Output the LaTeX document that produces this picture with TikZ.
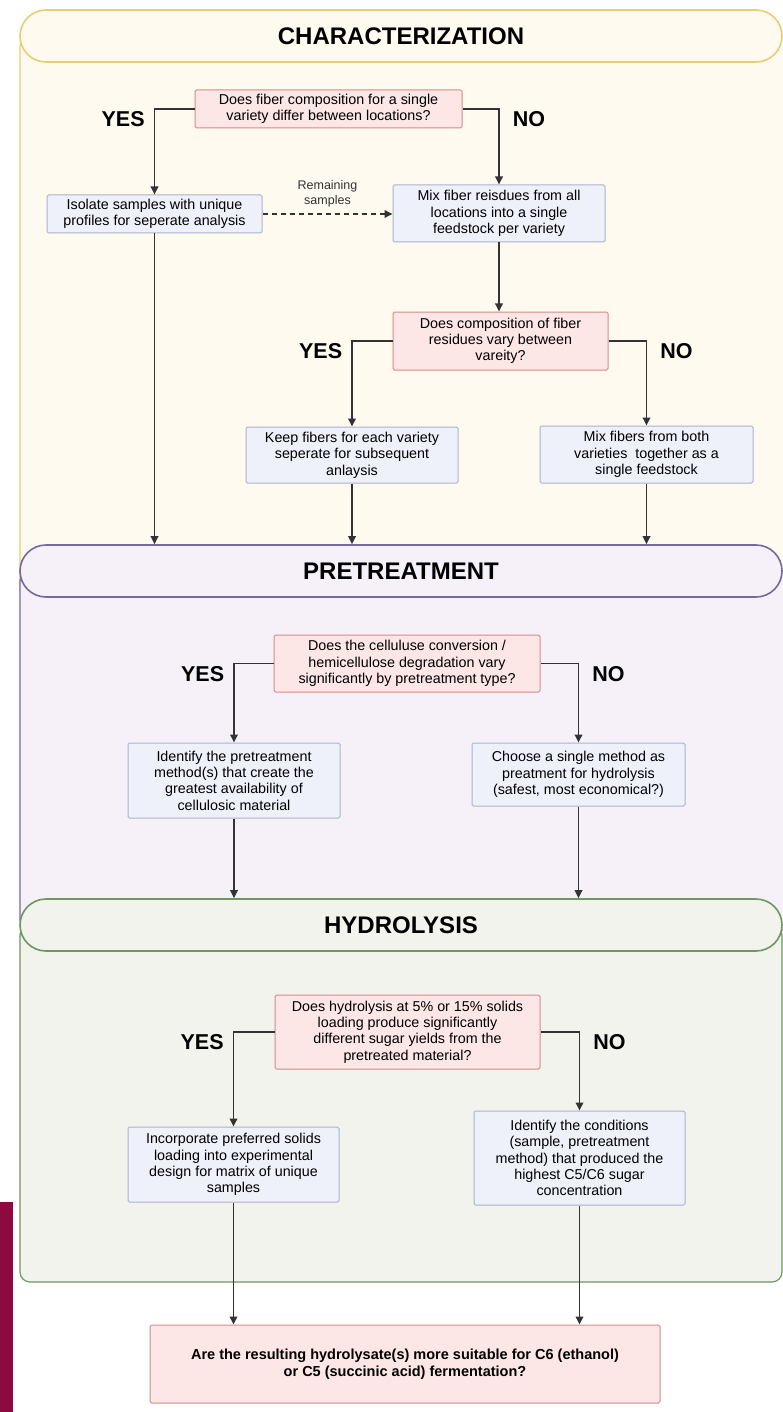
\documentclass[tikz,border=0pt]{standalone}
\usepackage{fontspec}
\setmainfont{Liberation Sans}
\usetikzlibrary{positioning,calc,arrows.meta}

\definecolor{charfill}{HTML}{FEFAF0}
\definecolor{charline}{HTML}{E9CD72}
\definecolor{prefill}{HTML}{F6F1F8}
\definecolor{preline}{HTML}{76699F}
\definecolor{hydfill}{HTML}{F1F3EC}
\definecolor{hydline}{HTML}{6F9760}
\definecolor{qfill}{HTML}{FCE6E6}
\definecolor{qline}{HTML}{D68A8A}
\definecolor{afill}{HTML}{EEF1F9}
\definecolor{aline}{HTML}{A8B3D3}
\definecolor{linegray}{HTML}{333333}
\definecolor{sidebar}{HTML}{8C0B3E}

\newcommand{\boxfont}{\fontsize{14.3}{16.3}\selectfont}

\begin{document}
\begin{tikzpicture}[
    x=1pt, y=-1pt,
    panel/.style={line width=1.2pt, rounded corners=10pt},
    header/.style={rectangle, rounded corners=26pt, line width=1.6pt, minimum width=762pt, minimum height=52pt, font=\fontsize{24}{27}\selectfont\bfseries},
    qbox/.style={rectangle, draw=qline, fill=qfill, line width=1pt, rounded corners=1.5pt, align=center, inner sep=2pt, font=\boxfont},
    abox/.style={rectangle, draw=aline, fill=afill, line width=1pt, rounded corners=1.5pt, align=center, inner sep=2pt, minimum width=212pt, font=\boxfont},
    arrow/.style={-{Triangle[length=8pt,width=7.5pt]}, line width=1.8pt, draw=linegray},
    yes/.style={anchor=north east, inner sep=0pt, xshift=-9pt, yshift=-2pt, font=\fontsize{21.5}{24}\selectfont\bfseries},
    no/.style={anchor=north west, inner sep=0pt, xshift=13pt, yshift=-2pt, font=\fontsize{21.5}{24}\selectfont\bfseries}
]
\useasboundingbox (0,0) rectangle (783,1412);

% Panels
\draw[panel, draw=charline, fill=charfill] (20,36) rectangle (800,600);
\draw[panel, draw=preline, fill=prefill] (20,571) rectangle (800,930);
\draw[panel, draw=hydline, fill=hydfill] (20,925) rectangle (782,1282);
\fill[sidebar] (0,1202) rectangle (13,1412);

% Headers
\node[header, draw=charline, fill=charfill] (charhead) at (401,36) {CHARACTERIZATION};
\node[header, draw=preline, fill=prefill] (prehead) at (401,571) {PRETREATMENT};
\node[header, draw=hydline, fill=hydfill] (hydhead) at (401,925) {HYDROLYSIS};

% Characterization
\node[qbox, minimum width=267pt, minimum height=38pt] (q1) at (328.5,109) {Does fiber composition for a single\\variety differ between locations?};
\node[abox, minimum width=215pt, minimum height=38pt] (isolate) at (154.5,214) {Isolate samples with unique\\profiles for seperate analysis};
\node[abox, minimum height=57pt] (mix) at (499,213.5) {Mix fiber reisdues from all\\locations into a single\\feedstock per variety};
\node[qbox, minimum width=215pt, minimum height=58pt] (q2) at (500.5,341) {Does composition of fiber\\residues vary between\\vareity?};
\node[abox, minimum height=56pt] (keep) at (352,455) {Keep fibers for each variety\\seperate for subsequent\\anlaysis};
\node[abox, minimum width=213pt, minimum height=57pt] (mixboth) at (646.5,454.5) {Mix fibers from both\\varieties~ together as a\\single feedstock};

% Pretreatment
\node[qbox, minimum width=266pt, minimum height=57pt] (q3) at (407,663.5) {Does the celluluse conversion /\\hemicellulose degradation vary\\significantly by pretreatment type?};
\node[abox, minimum height=75pt] (identify) at (234,780.5) {Identify the pretreatment\\method(s) that create the\\greatest availability of\\cellulosic material};
\node[abox, minimum width=213pt, minimum height=63pt] (choose) at (578.5,774.5) {Choose a single method as\\preatment for hydrolysis\\(safest, most economical?)};

% Hydrolysis
\node[qbox, minimum width=265pt, minimum height=74pt] (q4) at (407.5,1032) {Does hydrolysis at 5\% or 15\% solids\\loading produce significantly\\different sugar yields from the\\pretreated material?};
\node[abox, minimum width=211pt, minimum height=75pt] (incorp) at (233.5,1164.5) {Incorporate preferred solids\\loading into experimental\\design for matrix of unique\\samples};
\node[abox, minimum width=211pt, minimum height=94pt] (conditions) at (579.5,1158) {Identify the conditions\\(sample, pretreatment\\method) that produced the\\highest C5/C6 sugar\\concentration};

% Result
\node[qbox, minimum width=510pt, minimum height=78pt, font=\fontsize{14.5}{17}\selectfont\bfseries] (final) at (405,1364) {Are the resulting hydrolysate(s) more suitable for C6 (ethanol)\\or C5 (succinic acid) fermentation?};

% Arrows
\draw[arrow] (q1.west) -| node[yes] {YES} (isolate.north);
\draw[arrow] (q1.east) -| node[no] {NO} (mix.north);
\draw[arrow, dash pattern=on 5pt off 4pt] (isolate.east) -- node[midway, above=3pt, align=center, font=\fontsize{12.5}{14.5}\selectfont, text=linegray] {Remaining\\samples} (isolate.east -| mix.west);
\draw[arrow] (mix.south) -- (mix.south |- q2.north);
\draw[arrow] (q2.west) -| node[yes] {YES} (keep.north);
\draw[arrow] (q2.east) -| node[no] {NO} (mixboth.north);
\draw[arrow] (isolate.south) -- (isolate.south |- prehead.north);
\draw[arrow] (keep.south) -- (keep.south |- prehead.north);
\draw[arrow] (mixboth.south) -- (mixboth.south |- prehead.north);

\draw[arrow] (q3.west) -| node[yes] {YES} (identify.north);
\draw[arrow] (q3.east) -| node[no] {NO} (choose.north);
\draw[arrow] (identify.south) -- (identify.south |- hydhead.north);
\draw[arrow] (choose.south) -- (choose.south |- hydhead.north);

\draw[arrow] (q4.west) -| node[yes] {YES} (incorp.north);
\draw[arrow] (q4.east) -| node[no] {NO} (conditions.north);
\draw[arrow] (incorp.south) -- (incorp.south |- final.north);
\draw[arrow] (conditions.south) -- (conditions.south |- final.north);

\end{tikzpicture}
\end{document}
